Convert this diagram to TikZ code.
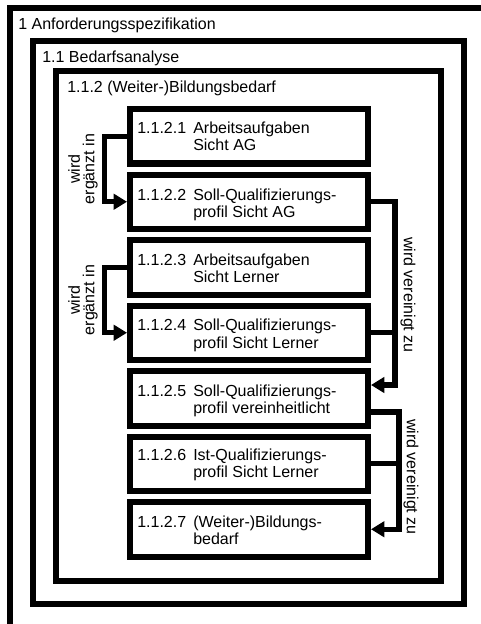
\documentclass[tikz,border=0pt]{standalone}
\usepackage{fontspec}
\setmainfont{Liberation Sans}
\usetikzlibrary{arrows.meta,calc}
\begin{document}
\begin{tikzpicture}[x=0.75pt,y=-0.75pt,
  frame/.style={draw, line width=4.5pt},
  box/.style={draw, fill=white, line width=4.5pt, minimum width=178.5pt, minimum height=40.875pt, inner sep=0pt},
  conn/.style={line width=4pt},
  arr/.style={conn, -{Triangle[length=10pt,width=11.5pt]}},
  title/.style={inner sep=0pt, anchor=base west, font=\fontsize{12}{13.125}\selectfont},
  boxtxt/.style={inner sep=0pt, anchor=base west, font=\fontsize{12}{13.125}\selectfont},
  lbl/.style={inner sep=0pt, align=center, font=\fontsize{12}{10.875}\selectfont}
]
\useasboundingbox (0,0) rectangle (481,624);
\clip (0,0) rectangle (481,624);
\fill[white] (0,0) rectangle (481,624);
% frames
\draw[frame] (9.5,8) rectangle (540,700);
\draw[frame] (33,41) rectangle (464,604);
\draw[frame] (56,71) rectangle (441,581);
\node[title] (f1) at (18,30) {1 Anforderungsspezifikation};
\node[title] (f2) at (42,63) {1.1 Bedarfsanalyse};
\node[title] (f3) at (67,93) {1.1.2 (Weiter-)Bildungsbedarf};
% boxes
\node[box] (b1) at (249,136.25) {};
\node[box] (b2) at (249,201.75) {};
\node[box] (b3) at (249,267.25) {};
\node[box] (b4) at (249,332.75) {};
\node[box] (b5) at (249,398.25) {};
\node[box] (b6) at (249,463.75) {};
\node[box] (b7) at (249,529.25) {};
% box texts
\node[boxtxt] (t1) at (137,133.5) {\begin{tabular}[t]{@{}p{42pt}@{}l@{}}1.1.2.1 & Arbeitsaufgaben\\ & Sicht AG\end{tabular}};
\node[boxtxt] (t2) at (137,200) {\begin{tabular}[t]{@{}p{42pt}@{}l@{}}1.1.2.2 & Soll-Qualifizierungs-\\ & profil Sicht AG\end{tabular}};
\node[boxtxt] (t3) at (137,265) {\begin{tabular}[t]{@{}p{42pt}@{}l@{}}1.1.2.3 & Arbeitsaufgaben\\ & Sicht Lerner\end{tabular}};
\node[boxtxt] (t4) at (137,330.5) {\begin{tabular}[t]{@{}p{42pt}@{}l@{}}1.1.2.4 & Soll-Qualifizierungs-\\ & profil Sicht Lerner\end{tabular}};
\node[boxtxt] (t5) at (137,396) {\begin{tabular}[t]{@{}p{42pt}@{}l@{}}1.1.2.5 & Soll-Qualifizierungs-\\ & profil vereinheitlicht\end{tabular}};
\node[boxtxt] (t6) at (137,460) {\begin{tabular}[t]{@{}p{42pt}@{}l@{}}1.1.2.6 & Ist-Qualifizierungs-\\ & profil Sicht Lerner\end{tabular}};
\node[boxtxt] (t7) at (137,527) {\begin{tabular}[t]{@{}p{42pt}@{}l@{}}1.1.2.7 & (Weiter-)Bildungs-\\ & bedarf\end{tabular}};
% connectors
\coordinate (l1) at (104.5,0);
\coordinate (r1) at (395,0);
\coordinate (r2) at (399,0);
\draw[arr] (b1.west) -- (b1.west -| l1) |- (b2.west);
\draw[arr] (b3.west) -- (b3.west -| l1) |- (b4.west);
\draw[arr] (b2.east) -- (b2.east -| r1) |- ($(b5.east)+(0,-13.25)$);
\draw[conn] (b4.east) -- (b4.east -| r1);
\draw[arr] ($(b5.east)+(0,13.75)$) -| (r2 |- b7.east) -- (b7.east);
\draw[conn] (b6.east) -- (b6.east -| r2);
% labels
\node[lbl, rotate=90] (la1) at (83,169) {wird\\ergänzt in};
\node[lbl, rotate=90] (la2) at (83,300) {wird\\ergänzt in};
\node[lbl, rotate=-90] (ra1) at (408,295) {wird vereinigt zu};
\node[lbl, rotate=-90] (ra2) at (411,477) {wird vereinigt zu};
\end{tikzpicture}
\end{document}
